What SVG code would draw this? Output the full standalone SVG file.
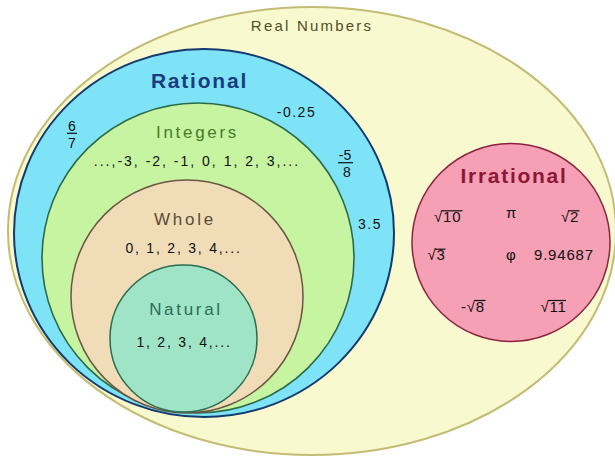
<svg xmlns="http://www.w3.org/2000/svg" width="615" height="456" viewBox="0 0 615 456">
<style>
text{font-family:"Liberation Sans",Arial,sans-serif;}
.num{font-size:14px;fill:#111;text-anchor:middle;}
.rad{font-size:15px;fill:#111;letter-spacing:0.8px;}
.lbl{text-anchor:middle;}
.bar{stroke:#111;stroke-width:1.2;}
</style>
<rect width="615" height="456" fill="#ffffff"/>
<g id="real">
<ellipse cx="312" cy="231" rx="304" ry="224" fill="#f9f9d0" stroke="#c3bc74" stroke-width="2"/>
<text class="lbl" x="312" y="31" font-size="15" fill="#4f4f1e" letter-spacing="2.2">Real Numbers</text>
</g>
<g id="rational">
<ellipse cx="204" cy="233" rx="190" ry="184" fill="#7ee3f6" stroke="#143a6e" stroke-width="2"/>
<text class="lbl" x="199.5" y="88" font-size="21" font-weight="bold" fill="#1c3a7e" letter-spacing="1.8">Rational</text>
<text class="num" x="296.5" y="117" font-size="15" letter-spacing="1.5">-0.25</text>
<text class="num" x="72" y="131">6</text>
<line class="bar" x1="67" y1="133.3" x2="77" y2="133.3"/>
<text class="num" x="72" y="147.5">7</text>
<text class="num" x="345" y="159.5" font-size="15">-5</text>
<line class="bar" x1="338" y1="162.7" x2="353" y2="162.7"/>
<text class="num" x="347" y="177" font-size="15">8</text>
<text class="num" x="370" y="229" font-size="15" letter-spacing="1.5">3.5</text>
</g>
<g id="integers">
<ellipse cx="198" cy="258" rx="156" ry="155" fill="#c6f4a0" stroke="#2b6b48" stroke-width="1.6"/>
<text class="lbl" x="197.5" y="137.5" font-size="17" fill="#4a7a26" letter-spacing="2.7">Integers</text>
<text class="num" x="197" y="166" font-size="13.5" letter-spacing="2">...,-3, -2, -1, 0, 1, 2, 3,...</text>
</g>
<g id="whole">
<ellipse cx="187" cy="296.5" rx="116" ry="116.5" fill="#f1dcb8" stroke="#6b5744" stroke-width="1.5"/>
<text class="lbl" x="185" y="224.5" font-size="17" fill="#5b4a36" letter-spacing="2.8">Whole</text>
<text class="num" x="183.5" y="253" letter-spacing="1.8">0, 1, 2, 3, 4,...</text>
</g>
<g id="natural">
<circle cx="183.5" cy="338.5" r="73.5" fill="#a0e4c8" stroke="#2a6e50" stroke-width="1.5"/>
<text class="lbl" x="186" y="315" font-size="17" fill="#2a6d55" letter-spacing="2.7">Natural</text>
<text class="num" x="184" y="347" letter-spacing="1.8">1, 2, 3, 4,...</text>
</g>
<g id="irrational">
<circle cx="511" cy="242.5" r="99" fill="#f6a0b5" stroke="#8b2340" stroke-width="1.5"/>
<text class="lbl" x="514" y="183" font-size="21" font-weight="bold" fill="#8c1737" letter-spacing="1.7">Irrational</text>
<text class="rad" x="434" y="221.7">√10</text>
<line class="bar" x1="441.5" y1="210.8" x2="462.5" y2="210.8"/>
<text class="rad" x="506" y="218">π</text>
<text class="rad" x="561" y="221.7">√2</text>
<line class="bar" x1="568.5" y1="210.8" x2="579.5" y2="210.8"/>
<text class="rad" x="427.5" y="260">√3</text>
<line class="bar" x1="435" y1="249.2" x2="445.5" y2="249.2"/>
<text class="rad" x="506" y="260">φ</text>
<text class="rad" x="534" y="260" letter-spacing="1.5">9.94687</text>
<text class="rad" x="461" y="311.5">-√8</text>
<line class="bar" x1="474.5" y1="300.5" x2="485.5" y2="300.5"/>
<text class="rad" x="540.5" y="311.5">√11</text>
<line class="bar" x1="548" y1="300.5" x2="566" y2="300.5"/>
</g>
<g id="connectors"/>
</svg>
